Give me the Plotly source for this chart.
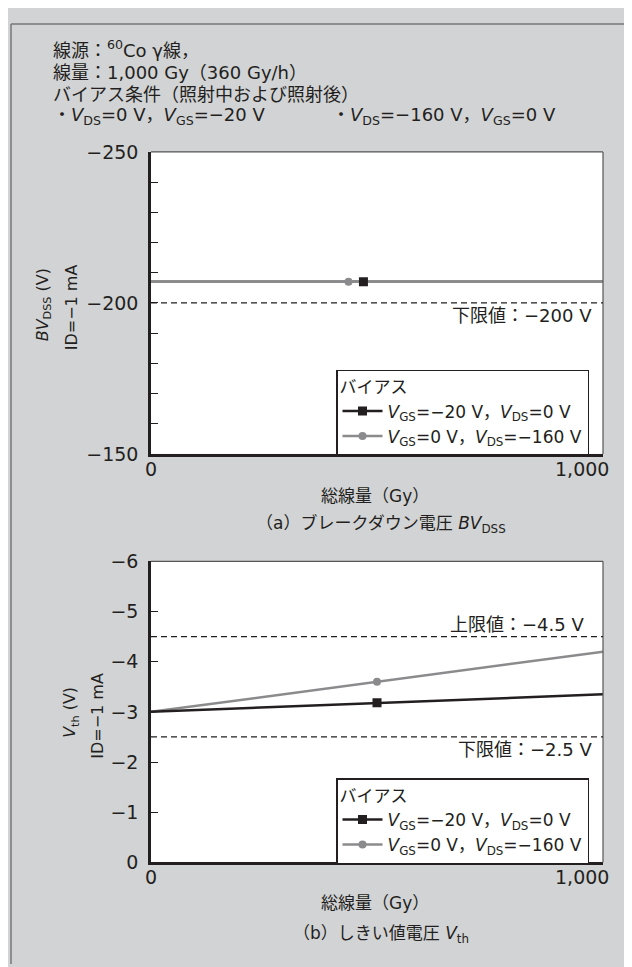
import plotly.graph_objects as go

# ---------------- data ----------------
dose_a = [0, 1000]
bv_black = [-207, -207]
bv_gray = [-207, -207]
bv_marker_dose_black = [470]
bv_marker_dose_gray = [437]
bv_marker_black = [-207]
bv_marker_gray = [-207]
bv_limits = [-200]
bv_limit_labels = ["下限値：−200 V"]

dose_b = [0, 500, 1000]
vth_black = [-3.0, -3.18, -3.35]
vth_gray = [-3.0, -3.6, -4.2]
vth_limits = [-4.5, -2.5]
vth_limit_labels = ["上限値：−4.5 V", "下限値：−2.5 V"]

series_names = ["<i>V</i><sub>GS</sub>=−20 V，<i>V</i><sub>DS</sub>=0 V",
                "<i>V</i><sub>GS</sub>=0 V，<i>V</i><sub>DS</sub>=−160 V"]
x_tick_labels = ["0", "1,000"]

# ---------------- style ----------------
W, H = 632, 967
BG = "#d2d3d5"
DARK = "#231f20"
GRAY = "#8b8b8d"
FONT = "DejaVu Sans, Noto Sans CJK JP"

def px_x(p):
    return p / W

def px_y(p):
    return 1 - p / H

fig = go.Figure()

# ---- top chart (a) ----
fig.add_trace(go.Scatter(x=dose_a, y=bv_black, mode="lines", line=dict(color=DARK, width=2.5),
                         showlegend=False, xaxis="x", yaxis="y", hoverinfo="skip"))
fig.add_trace(go.Scatter(x=dose_a, y=bv_gray, mode="lines", line=dict(color=GRAY, width=2.5),
                         showlegend=False, xaxis="x", yaxis="y", hoverinfo="skip"))
fig.add_trace(go.Scatter(x=bv_marker_dose_black, y=bv_marker_black, mode="lines+markers",
                         line=dict(color=DARK, width=2.5),
                         marker=dict(symbol="square", size=9, color=DARK),
                         name=series_names[0], legend="legend", xaxis="x", yaxis="y"))
fig.add_trace(go.Scatter(x=bv_marker_dose_gray, y=bv_marker_gray, mode="lines+markers",
                         line=dict(color=GRAY, width=2.5),
                         marker=dict(symbol="circle", size=8, color=GRAY),
                         name=series_names[1], legend="legend", xaxis="x", yaxis="y"))

# ---- bottom chart (b) ----
fig.add_trace(go.Scatter(x=dose_b, y=vth_gray, mode="lines", line=dict(color=GRAY, width=2.5),
                         showlegend=False, xaxis="x2", yaxis="y2", hoverinfo="skip"))
fig.add_trace(go.Scatter(x=dose_b, y=vth_black, mode="lines", line=dict(color=DARK, width=2.5),
                         showlegend=False, xaxis="x2", yaxis="y2", hoverinfo="skip"))
fig.add_trace(go.Scatter(x=[dose_b[1]], y=[vth_black[1]], mode="lines+markers",
                         line=dict(color=DARK, width=2.5),
                         marker=dict(symbol="square", size=9, color=DARK),
                         name=series_names[0], legend="legend2", xaxis="x2", yaxis="y2"))
fig.add_trace(go.Scatter(x=[dose_b[1]], y=[vth_gray[1]], mode="lines+markers",
                         line=dict(color=GRAY, width=2.5),
                         marker=dict(symbol="circle", size=8, color=GRAY),
                         name=series_names[1], legend="legend2", xaxis="x2", yaxis="y2"))

x_dom = [px_x(143), px_x(595)]
ya_dom = [px_y(445), px_y(136)]
yb_dom = [px_y(863), px_y(555)]

tickfont = dict(family=FONT, size=19, color=DARK)
xcommon = dict(range=[0, 1000], domain=x_dom, showgrid=False, zeroline=False,
               showline=True, linecolor=DARK, linewidth=2.5,
               tickvals=[500], ticks="inside", ticklen=7, tickcolor=DARK, tickwidth=1.3,
               showticklabels=False, fixedrange=True)
fig.update_layout(
    xaxis=dict(**xcommon, anchor="y"),
    xaxis2=dict(**xcommon, anchor="y2"),
    yaxis=dict(range=[-150, -250], domain=ya_dom, anchor="x", showgrid=False, zeroline=False,
               showline=True, linecolor=DARK, linewidth=2.5,
               tickmode="linear", tick0=-250, dtick=50, ticks="inside", ticklen=7,
               tickcolor=DARK, tickwidth=1.3, tickfont=tickfont, ticklabelstandoff=6,
               minor=dict(dtick=10, tick0=-250, ticks="inside", ticklen=7, tickcolor=DARK, tickwidth=1.3),
               fixedrange=True),
    yaxis2=dict(range=[0, -6], domain=yb_dom, anchor="x2", showgrid=False, zeroline=False,
                showline=True, linecolor=DARK, linewidth=2.5,
                tickmode="linear", tick0=0, dtick=1, ticks="inside", ticklen=7,
                tickcolor=DARK, tickwidth=1.3, tickfont=tickfont, ticklabelstandoff=6,
                fixedrange=True),
)

# frames: thin top/right borders of plot areas
for xr, yr in [("x", "y"), ("x2", "y2")]:
    fig.add_shape(type="line", xref=f"{xr} domain", yref=f"{yr} domain", x0=0, x1=1, y0=1, y1=1,
                  line=dict(color="#555", width=1.2), layer="above")
    fig.add_shape(type="line", xref=f"{xr} domain", yref=f"{yr} domain", x0=1, x1=1, y0=0, y1=1,
                  line=dict(color="#555", width=1.2), layer="above")

# outer figure frame (top and left)
fig.add_shape(type="line", xref="paper", yref="paper", x0=px_x(3), x1=1, y0=px_y(5), y1=px_y(5),
              line=dict(color="#777", width=1.5))
fig.add_shape(type="line", xref="paper", yref="paper", x0=px_x(3), x1=px_x(3), y0=0, y1=px_y(5),
              line=dict(color="#777", width=1.5))

# limit lines
dash = "6px,4px"
for v in bv_limits:
    fig.add_shape(type="line", xref="x domain", yref="y", x0=0, x1=1, y0=v, y1=v,
                  line=dict(color=DARK, width=1.3, dash=dash))
for v in vth_limits:
    fig.add_shape(type="line", xref="x2 domain", yref="y2", x0=0, x1=1, y0=v, y1=v,
                  line=dict(color=DARK, width=1.3, dash=dash))

lab_font = dict(family=FONT, size=18, color=DARK)
ann = []
ann.append(dict(xref="x", yref="y", x=1000, y=bv_limits[0], text=bv_limit_labels[0],
                xanchor="right", yanchor="top", xshift=-9, yshift=0, showarrow=False, font=lab_font))
ann.append(dict(xref="x2", yref="y2", x=1000, y=vth_limits[0], text=vth_limit_labels[0],
                xanchor="right", yanchor="bottom", xshift=-17, yshift=0, showarrow=False, font=lab_font))
ann.append(dict(xref="x2", yref="y2", x=1000, y=vth_limits[1], text=vth_limit_labels[1],
                xanchor="right", yanchor="top", xshift=-9, yshift=0, showarrow=False, font=lab_font))

# x tick labels
for xr, yr in [("x", "y"), ("x2", "y2")]:
    ann.append(dict(xref=xr, yref=f"{yr} domain", x=0, y=0, text=x_tick_labels[0], xanchor="center",
                    yanchor="top", yshift=-2, showarrow=False, font=tickfont))
    ann.append(dict(xref=xr, yref=f"{yr} domain", x=1000, y=0, text=x_tick_labels[1], xanchor="right",
                    yanchor="top", xshift=8, yshift=-2, showarrow=False, font=tickfont))

# x titles and captions
cap_font = dict(family=FONT, size=17, color=DARK)
ann.append(dict(xref="paper", yref="paper", x=px_x(367), y=px_y(488), text="総線量（Gy）",
                xanchor="center", yanchor="middle", showarrow=False, font=cap_font))
ann.append(dict(xref="paper", yref="paper", x=px_x(373), y=px_y(517),
                text="（a）ブレークダウン電圧 <i>BV</i><sub>DSS</sub>",
                xanchor="center", yanchor="middle", showarrow=False, font=cap_font))
ann.append(dict(xref="paper", yref="paper", x=px_x(367), y=px_y(905), text="総線量（Gy）",
                xanchor="center", yanchor="middle", showarrow=False, font=cap_font))
ann.append(dict(xref="paper", yref="paper", x=px_x(373), y=px_y(937),
                text="（b）しきい値電圧 <i>V</i><sub>th</sub>",
                xanchor="center", yanchor="middle", showarrow=False, font=cap_font))

# y titles (two rotated lines each)
yt_font = dict(family=FONT, size=16, color=DARK)
y_titles = [("<i>BV</i><sub>DSS</sub> (V)", 35, 293), ("ID=−1 mA", 63, 295),
            ("<i>V</i><sub>th</sub> (V)", 63, 710), ("ID=−1 mA", 90, 713)]
for t, xx, yy in y_titles:
    ann.append(dict(xref="paper", yref="paper", x=px_x(xx), y=px_y(yy), text=t, textangle=-90,
                    xanchor="center", yanchor="middle", showarrow=False, font=yt_font))

# header text
hdr_font = dict(family=FONT, size=18, color=DARK)
header_lines = ["線源：<sup>60</sup>Co γ線，",
                "線量：1,000 Gy（360 Gy/h）",
                "バイアス条件（照射中および照射後）"]
header_y = [31, 55, 77]
for t, yy in zip(header_lines, header_y):
    ann.append(dict(xref="paper", yref="paper", x=px_x(43), y=px_y(yy), text=t,
                    xanchor="left", yanchor="middle", showarrow=False, font=hdr_font))
ann.append(dict(xref="paper", yref="paper", x=px_x(43), y=px_y(99),
                text="・<i>V</i><sub>DS</sub>=0 V，<i>V</i><sub>GS</sub>=−20 V",
                xanchor="left", yanchor="middle", showarrow=False, font=hdr_font))
ann.append(dict(xref="paper", yref="paper", x=px_x(322), y=px_y(99),
                text="・<i>V</i><sub>DS</sub>=−160 V，<i>V</i><sub>GS</sub>=0 V",
                xanchor="left", yanchor="middle", showarrow=False, font=hdr_font))

leg_common = dict(bgcolor="white", bordercolor=DARK, borderwidth=1.5,
                  font=dict(family=FONT, size=17, color=DARK),
                  title=dict(text="バイアス", font=dict(family=FONT, size=17, color=DARK)),
                  xanchor="left", yanchor="top", itemwidth=40, tracegroupgap=0)

fig.update_layout(
    width=W, height=H, margin=dict(l=0, r=0, t=0, b=0),
    paper_bgcolor=BG, plot_bgcolor="white",
    font=dict(family=FONT, color=DARK),
    annotations=ann,
    legend=dict(**leg_common, x=px_x(328), y=px_y(359)),
    legend2=dict(**leg_common, x=px_x(328), y=px_y(777)),
)

fig.write_html("out.html")
